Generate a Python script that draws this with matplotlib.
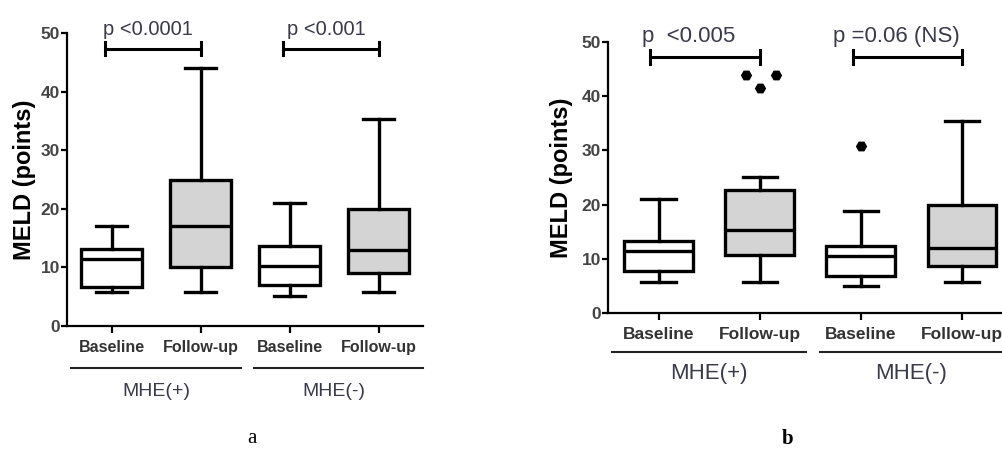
import matplotlib
matplotlib.use("Agg")
import matplotlib.pyplot as plt
import matplotlib.transforms as mtransforms

# ---------------- data ----------------
categories = ["Baseline", "Follow-up", "Baseline", "Follow-up"]
groups = ["MHE(+)", "MHE(-)"]

# panel a: whisker low, Q1, median, Q3, whisker high
a_low = [5.8, 5.8, 5.1, 5.8]
a_q1 = [6.7, 10.0, 7.0, 9.0]
a_med = [11.4, 17.0, 10.3, 13.0]
a_q3 = [13.2, 25.0, 13.7, 20.0]
a_high = [17.0, 44.0, 21.0, 35.4]
a_pvals = ["p <0.0001", "p <0.001"]

# panel b
b_low = [5.8, 5.8, 5.0, 5.8]
b_q1 = [7.8, 10.7, 6.8, 8.7]
b_med = [11.4, 15.4, 10.5, 12.0]
b_q3 = [13.3, 22.7, 12.4, 19.9]
b_high = [21.0, 25.0, 18.9, 35.5]
b_fliers = [[], [44.0, 41.5, 44.0], [30.8], []]
b_pvals = ["p  <0.005", "p =0.06 (NS)"]

yticks = [0, 10, 20, 30, 40, 50]

# ---------------- style ----------------
fill_colors = ["white", "#d4d4d4", "white", "#d4d4d4"]
flier_offsets = [[], [-0.14, 0.0, 0.16], [0.0], []]
TXT = "#3a3a48"
LW = 2.4

fig = plt.figure(figsize=(10.03, 4.54), dpi=100)


def panel(rect, low, q1, med, q3, high, pvals, fliers, tick_fs, p_fs, grp_fs,
          p_x, p_y, br_y, br_h, br_x0off, ylab_x):
    ax = fig.add_axes(rect)
    pos = [1, 2, 3, 4]
    stats = []
    for i in range(4):
        stats.append(dict(whislo=low[i], q1=q1[i], med=med[i], q3=q3[i],
                          whishi=high[i], fliers=[], label=categories[i]))
    bp = ax.bxp(stats, positions=pos, widths=0.68, patch_artist=True,
                showfliers=False, capwidths=0.34,
                boxprops=dict(linewidth=LW, edgecolor="black"),
                medianprops=dict(linewidth=LW, color="black"),
                whiskerprops=dict(linewidth=LW, color="black"),
                capprops=dict(linewidth=LW, color="black"))
    for patch, c in zip(bp["boxes"], fill_colors):
        patch.set_facecolor(c)
    for i in range(4):
        for v, off in zip(fliers[i], flier_offsets[i]):
            ax.plot(pos[i] + off, v, marker="H", ms=7, color="black",
                    linestyle="none", clip_on=False)
    ax.set_xlim(0.5, 4.5)
    ax.set_ylim(0, 50)
    ax.set_yticks(yticks)
    ax.set_xticks(pos)
    ax.set_xticklabels(categories, fontsize=tick_fs, fontweight="bold",
                       color="#333333", family="Liberation Sans")
    for lab in ax.get_yticklabels():
        lab.set_fontsize(12.5)
        lab.set_fontweight("bold")
        lab.set_color("#444444")
        lab.set_family("Liberation Sans")
    ax.spines["top"].set_visible(False)
    ax.spines["right"].set_visible(False)
    for s in ["left", "bottom"]:
        ax.spines[s].set_linewidth(1.6)
    ax.tick_params(axis="x", direction="out", length=5, width=1.6, pad=5)
    ax.tick_params(axis="y", direction="out", length=4, width=1.6, pad=1)
    ax.set_ylabel("MELD (points)", fontsize=17, fontweight="bold",
                  family="Liberation Sans")
    ax.yaxis.set_label_coords(ylab_x, 0.5)

    # significance brackets
    for g in range(2):
        x1 = pos[2 * g] + br_x0off
        x2 = pos[2 * g + 1]
        ax.plot([x1, x2], [br_y, br_y], color="black", lw=2.2,
                solid_capstyle="butt", clip_on=False)
        for xx in (x1, x2):
            ax.plot([xx, xx], [br_y - br_h, br_y + br_h], color="black",
                    lw=2.2, clip_on=False)
        ax.text(p_x[g], p_y, pvals[g], fontsize=p_fs, color=TXT,
                ha="left", va="baseline", family="Liberation Sans",
                clip_on=False)

    # group lines and labels
    trans = mtransforms.blended_transform_factory(ax.transData, ax.transAxes)
    spans = [(0.54, 2.46), (2.6, 4.5)]
    for g in range(2):
        a0, a1 = spans[g]
        ax.plot([a0, a1], [-0.143, -0.143], color="#222222", lw=1.5,
                transform=trans, clip_on=False)
        ax.text((pos[2 * g] + pos[2 * g + 1]) / 2, -0.225, groups[g],
                transform=trans, ha="center", va="center", fontsize=grp_fs,
                color=TXT, family="Liberation Sans")
    return ax


panel([0.0668, 0.2819, 0.355, 0.6454], a_low, a_q1, a_med, a_q3, a_high,
      a_pvals, [[], [], [], []], 11.5, 14.5, 14,
      p_x=[0.9, 2.97], p_y=49.7, br_y=47.3, br_h=1.1, br_x0off=-0.07,
      ylab_x=-0.087)

panel([0.6062, 0.3106, 0.4033, 0.5969], b_low, b_q1, b_med, b_q3, b_high,
      b_pvals, b_fliers, 12.5, 16, 16,
      p_x=[0.84, 2.72], p_y=50.0, br_y=47.3, br_h=1.3, br_x0off=-0.08,
      ylab_x=-0.087)

fig.text(0.251, 0.024, "a", ha="center", va="baseline", fontsize=15,
         family="Liberation Serif")
fig.text(0.785, 0.022, "b", ha="center", va="baseline", fontsize=15,
         fontweight="bold", family="Liberation Serif")

fig.savefig("out.png", dpi=100)
